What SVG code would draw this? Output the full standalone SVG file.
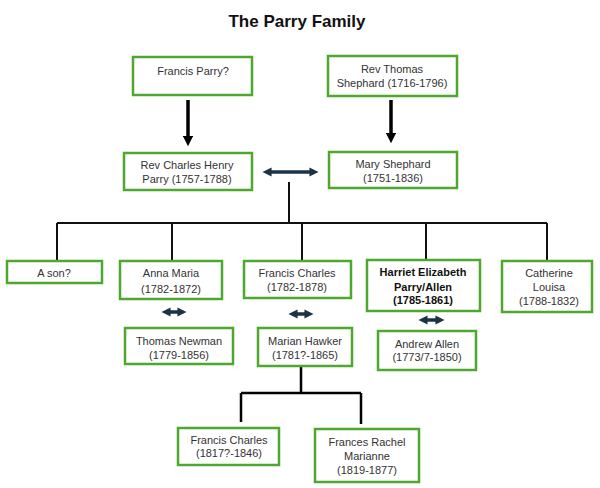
<svg xmlns="http://www.w3.org/2000/svg" width="600" height="488" viewBox="0 0 600 488">
<defs>
<style>
.box{fill:#fff;stroke:#4ea72e;stroke-width:2.5}
.t{font-family:"Liberation Sans",Arial,sans-serif;font-size:11px;fill:#333;text-anchor:middle}
.b{font-weight:bold;fill:#111}
.ln{stroke:#111;stroke-width:2;fill:none}
.dn{stroke:#000;stroke-width:3.5;fill:none}
.dbl{stroke:#1b3344;stroke-width:3.5;fill:none}
</style>
<marker id="ah" viewBox="0 0 10 10" refX="5" refY="5" markerWidth="3" markerHeight="3" orient="auto"><path d="M0,0 L10,5 L0,10 z" fill="#000"/></marker>
<marker id="dh" viewBox="0 0 10 10" refX="5" refY="5" markerWidth="2.6" markerHeight="2.6" orient="auto-start-reverse"><path d="M0,0 L10,5 L0,10 z" fill="#1b3344"/></marker>
</defs>
<rect width="600" height="488" fill="#fff"/>
<text x="297" y="27" style="font-family:'Liberation Sans',Arial,sans-serif;font-size:17px;font-weight:bold;fill:#111" text-anchor="middle">The Parry Family</text>
<g id="connectors">
<line class="dn" x1="188" y1="100" x2="188" y2="141" marker-end="url(#ah)"/>
<line class="dn" x1="391" y1="100" x2="391" y2="138" marker-end="url(#ah)"/>
<line class="dbl" x1="267" y1="172" x2="314" y2="172" marker-start="url(#dh)" marker-end="url(#dh)"/>
<line class="dbl" x1="166" y1="312" x2="182" y2="312" marker-start="url(#dh)" marker-end="url(#dh)"/>
<line class="dbl" x1="293" y1="314" x2="309" y2="314" marker-start="url(#dh)" marker-end="url(#dh)"/>
<line class="dbl" x1="423" y1="320" x2="440" y2="320" marker-start="url(#dh)" marker-end="url(#dh)"/>
<path class="ln" d="M289,182 V223 M57,223 H547 M57,223 V260 M172,223 V260 M302,223 V260 M426,223 V259 M547,223 V260"/>
<path class="dn" style="stroke-width:2.5" d="M301,366 V393 M241,393 H361 M241,393 V422 M361,393 V424"/>
</g>
<g id="n-francis-parry"><rect class="box" x="133" y="57" width="119" height="38"/><text class="t" x="193" y="75">Francis Parry?</text></g>
<g id="n-thomas-shephard"><rect class="box" x="328" y="56" width="129" height="40"/><text class="t" x="392" y="73">Rev Thomas</text><text class="t" x="392" y="87">Shephard (1716-1796)</text></g>
<g id="n-charles-henry"><rect class="box" x="124" y="153" width="128" height="37"/><text class="t" x="187" y="169">Rev Charles Henry</text><text class="t" x="187" y="183">Parry (1757-1788)</text></g>
<g id="n-mary-shephard"><rect class="box" x="329" y="152" width="128" height="36"/><text class="t" x="393" y="168">Mary Shephard</text><text class="t" x="393" y="182">(1751-1836)</text></g>
<g id="n-a-son"><rect class="box" x="7" y="261" width="95" height="22"/><text class="t" x="54" y="277">A son?</text></g>
<g id="n-anna-maria"><rect class="box" x="120" y="261" width="102" height="38"/><text class="t" x="171" y="277">Anna Maria</text><text class="t" x="171" y="293">(1782-1872)</text></g>
<g id="n-francis-charles"><rect class="box" x="244" y="261" width="107" height="37"/><text class="t" x="297" y="277">Francis Charles</text><text class="t" x="297" y="291">(1782-1878)</text></g>
<g id="n-harriet"><rect class="box" x="367" y="260" width="113" height="51"/><text class="t b" x="423" y="276">Harriet Elizabeth</text><text class="t b" x="423" y="291">Parry/Allen</text><text class="t b" x="423" y="304">(1785-1861)</text></g>
<g id="n-catherine"><rect class="box" x="502" y="261" width="90" height="51"/><text class="t" x="549" y="277">Catherine</text><text class="t" x="549" y="291">Louisa</text><text class="t" x="549" y="305">(1788-1832)</text></g>
<g id="n-thomas-newman"><rect class="box" x="125" y="328" width="108" height="36"/><text class="t" x="179" y="345">Thomas Newman</text><text class="t" x="179" y="359">(1779-1856)</text></g>
<g id="n-marian-hawker"><rect class="box" x="258" y="328" width="94" height="38"/><text class="t" x="305" y="345">Marian Hawker</text><text class="t" x="305" y="359">(1781?-1865)</text></g>
<g id="n-andrew-allen"><rect class="box" x="378" y="331" width="98" height="39"/><text class="t" x="427" y="348">Andrew Allen</text><text class="t" x="427" y="361">(1773/7-1850)</text></g>
<g id="n-francis-charles-jr"><rect class="box" x="178" y="428" width="101" height="37"/><text class="t" x="229" y="444">Francis Charles</text><text class="t" x="229" y="457">(1817?-1846)</text></g>
<g id="n-frances-rachel"><rect class="box" x="315" y="429" width="104" height="53"/><text class="t" x="367" y="446">Frances Rachel</text><text class="t" x="367" y="460">Marianne</text><text class="t" x="367" y="474">(1819-1877)</text></g>
</svg>
